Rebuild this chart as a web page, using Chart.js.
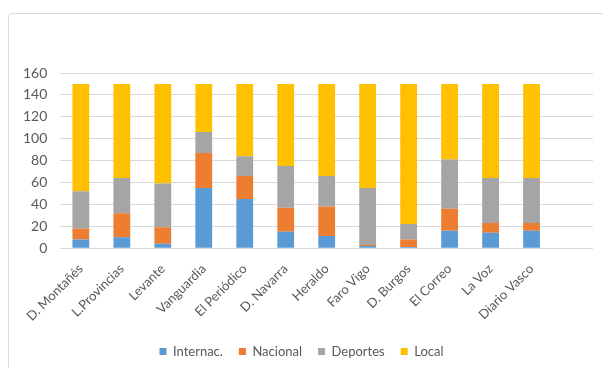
<!DOCTYPE html>
<html>
<head>
<meta charset="utf-8">
<script src="https://cdn.jsdelivr.net/npm/chart.js@4"></script>
<style>
  html, body { margin: 0; padding: 0; background: #fff; overflow: hidden; }
  #wrap { position: relative; width: 603px; height: 368px; }
  #frame { position: absolute; left: 8px; top: 13px; width: 640px; height: 420px;
           border: 1px solid #d9d9d9; border-radius: 4px; }
  canvas { position: absolute; left: 0; top: 0; }
</style>
</head>
<body>
<div id="wrap">
  <div id="frame"></div>
  <canvas id="myChart" width="603" height="368"></canvas>
</div>
<script>
// newspapers (last slot is empty in the original)
var papers = ['D. Montañés', 'L.Provincias', 'Levante', 'Vanguardia', 'El Periódico', 'D. Navarra',
              'Heraldo', 'Faro Vigo', 'D. Burgos', 'El Correo', 'La Voz', 'Diario Vasco', ''];
var internac  = [8, 10, 4, 55, 45, 15, 11, 2, 1, 16, 14, 16, null];
var nacional  = [10, 22, 15, 32, 21, 22, 27, 1, 7, 20, 9, 7, null];
var deportes  = [34, 32, 40, 19, 18, 38, 28, 52, 14, 45, 41, 41, null];
var local     = [98, 86, 91, 44, 66, 75, 84, 95, 128, 69, 86, 86, null];
var yTicks = [0, 20, 40, 60, 80, 100, 120, 140, 160];

Chart.defaults.font.family = 'Lato';
Chart.defaults.color = '#595959';

var ctx = document.getElementById('myChart').getContext('2d');

function ds(label, values, color) {
    return {
        label: label,
        data: values,
        backgroundColor: color,
        borderWidth: 0,
        barPercentage: 0.41,
        categoryPercentage: 1
    };
}

var chart = new Chart(ctx, {
    type: 'bar',
    data: {
        labels: papers,
        datasets: [
            ds('Internac.', internac, '#5b9bd5'),
            ds('Nacional', nacional, '#ed7d31'),
            ds('Deportes', deportes, '#a5a5a5'),
            ds('Local', local, '#ffc000')
        ]
    },
    options: {
        responsive: false,
        animation: false,
        layout: { padding: { top: 73, right: 10, left: 10, bottom: 0 } },
        scales: {
            x: {
                stacked: true,
                grid: { display: false },
                border: { display: false },
                ticks: { font: { size: 13 }, maxRotation: 45, minRotation: 45, autoSkip: false, padding: 5 }
            },
            y: {
                stacked: true,
                min: 0,
                max: 160,
                afterBuildTicks: function (axis) { axis.ticks = yTicks.map(v => ({ value: v })); },
                grid: { color: '#d9d9d9', drawTicks: false },
                border: { display: false },
                ticks: { font: { size: 14 }, padding: 13 }
            }
        },
        plugins: {
            legend: {
                position: 'bottom',
                labels: { boxWidth: 7, boxHeight: 7, font: { size: 13 }, padding: 16 }
            },
            tooltip: { enabled: false }
        }
    }
});
</script>
</body>
</html>
